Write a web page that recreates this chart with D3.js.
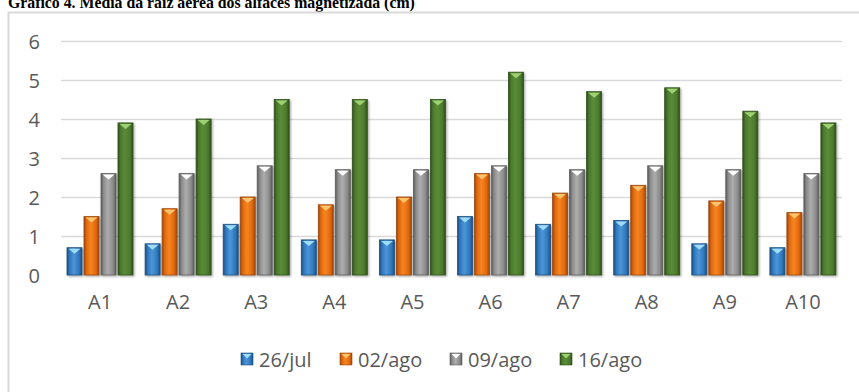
<!DOCTYPE html>
<html>
<head>
<meta charset="utf-8">
<script src="https://cdn.jsdelivr.net/npm/d3@7"></script>
<style>
  html, body { margin: 0; padding: 0; background: #fff; }
  svg { display: block; }
</style>
</head>
<body>
<svg id="chart" width="859" height="392"></svg>
<script>
// Média da raiz aérea (cm) por alface, em quatro datas de medição
const categories = ["A1", "A2", "A3", "A4", "A5", "A6", "A7", "A8", "A9", "A10"];
const seriesNames = ["26/jul", "02/ago", "09/ago", "16/ago"];
const jul26 = [0.7, 0.8, 1.3, 0.9, 0.9, 1.5, 1.3, 1.4, 0.8, 0.7];
const ago02 = [1.5, 1.7, 2.0, 1.8, 2.0, 2.6, 2.1, 2.3, 1.9, 1.6];
const ago09 = [2.6, 2.6, 2.8, 2.7, 2.7, 2.8, 2.7, 2.8, 2.7, 2.6];
const ago16 = [3.9, 4.0, 4.5, 4.5, 4.5, 5.2, 4.7, 4.8, 4.2, 3.9];
const yTicks = [0, 1, 2, 3, 4, 5, 6];
const titleText = "Gráfico 4. Media da raiz aérea dos alfaces magnetizada (cm)";

const seriesValues = [jul26, ago02, ago09, ago16];

// bevelled fill per series: edge, mid, highlight, top facet
const palette = [
  { dark: "#1f4f7d", mid: "#2f78be", light: "#4d95d6", top: "#9fdcf7" },
  { dark: "#9c4710", mid: "#e0690f", light: "#f7851f", top: "#ffc46e" },
  { dark: "#5c5c5c", mid: "#8c8c8c", light: "#adadad", top: "#ffffff" },
  { dark: "#2f4f1c", mid: "#4c7a2e", light: "#5a8c37", top: "#9fd173" }
];

const svg = d3.select("#chart");
const defs = svg.append("defs");

palette.forEach((p, i) => {
  const g = defs.append("linearGradient")
    .attr("id", "grad" + i)
    .attr("x1", "0%").attr("x2", "100%").attr("y1", "0%").attr("y2", "0%");
  g.append("stop").attr("offset", "0%").attr("stop-color", p.dark);
  g.append("stop").attr("offset", "18%").attr("stop-color", p.mid);
  g.append("stop").attr("offset", "45%").attr("stop-color", p.light);
  g.append("stop").attr("offset", "80%").attr("stop-color", p.mid);
  g.append("stop").attr("offset", "100%").attr("stop-color", p.dark);
});

const shadow = defs.append("filter").attr("id", "shadow")
  .attr("x", "-30%").attr("y", "-10%").attr("width", "160%").attr("height", "130%");
shadow.append("feDropShadow")
  .attr("dx", 1.2).attr("dy", 1.2).attr("stdDeviation", 1.2)
  .attr("flood-color", "#000").attr("flood-opacity", 0.35);

// title, running off the top edge of the page
svg.append("text")
  .attr("x", 8).attr("y", 8)
  .attr("font-family", "'Liberation Serif', 'Times New Roman', serif")
  .attr("font-weight", "bold")
  .attr("font-size", 15.8)
  .attr("fill", "#000")
  .text(titleText);

// chart frame
svg.append("rect")
  .attr("x", 8.5).attr("y", 12.5)
  .attr("width", 880).attr("height", 420)
  .attr("fill", "#fff")
  .attr("stroke", "#d9d9d9").attr("stroke-width", 2);

const plot = { left: 61, right: 842, top: 41, bottom: 275 };

const y = d3.scaleLinear().domain([0, 6]).range([plot.bottom, plot.top]);
const x0 = d3.scaleBand().domain(categories).range([plot.left, plot.right]).padding(0);
const x1 = d3.scaleBand().domain(seriesNames).range([6, 72]).paddingInner(2 / 17).paddingOuter(0);

const font = "'Open Sans', 'Noto Sans', sans-serif";
const textColor = "#595959";

// gridlines
svg.append("g")
  .selectAll("line")
  .data(yTicks.filter(t => t > 0))
  .join("line")
  .attr("x1", plot.left).attr("x2", plot.right)
  .attr("y1", d => Math.round(y(d)) + 0.5).attr("y2", d => Math.round(y(d)) + 0.5)
  .attr("stroke", "#d9d9d9").attr("stroke-width", 1.5);

// y axis labels
const yAxis = svg.append("g")
  .attr("transform", `translate(${plot.left - 21},0)`)
  .call(d3.axisLeft(y).tickValues(yTicks).tickSize(0).tickPadding(0).tickFormat(d3.format("d")));
yAxis.select(".domain").remove();
yAxis.selectAll("text")
  .attr("font-family", font).attr("font-size", 20).attr("fill", textColor)
  .attr("dy", "0.36em");

// baseline with soft shadow
svg.append("line")
  .attr("x1", plot.left).attr("x2", plot.right)
  .attr("y1", y(0) + 0.5).attr("y2", y(0) + 0.5)
  .attr("stroke", "#d0d0d0").attr("stroke-width", 2)
  .attr("filter", "url(#shadow)");

// bars
const groups = svg.append("g")
  .selectAll("g")
  .data(categories)
  .join("g")
  .attr("transform", d => `translate(${x0(d)},0)`);

const bars = groups.selectAll("g.bar")
  .data((c, ci) => seriesNames.map((s, si) => ({ s, si, v: seriesValues[si][ci] })))
  .join("g")
  .attr("class", "bar");

bars.append("rect")
  .attr("x", d => x1(d.s))
  .attr("y", d => y(d.v))
  .attr("width", x1.bandwidth())
  .attr("height", d => y(0) - y(d.v))
  .attr("fill", d => `url(#grad${d.si})`)
  .attr("stroke", d => palette[d.si].dark)
  .attr("stroke-width", 0.8)
  .attr("filter", "url(#shadow)");

bars.append("path")
  .attr("d", d => {
    const bx = x1(d.s), bw = x1.bandwidth(), by = y(d.v);
    return `M${bx + 1.5},${by + 1} L${bx + bw - 1.5},${by + 1} L${bx + bw / 2},${by + 6} Z`;
  })
  .attr("fill", d => palette[d.si].top);

// x axis labels
const xAxis = svg.append("g")
  .attr("transform", `translate(0,${plot.bottom + 15})`)
  .call(d3.axisBottom(x0).tickSize(0).tickPadding(0));
xAxis.select(".domain").remove();
xAxis.selectAll("text")
  .attr("font-family", font).attr("font-size", 20).attr("fill", textColor)
  .attr("dy", "0.95em");

// legend
const legendX = [241, 340, 450, 560];
const legend = svg.append("g").selectAll("g")
  .data(seriesNames)
  .join("g")
  .attr("transform", (d, i) => `translate(${legendX[i]},353)`);

legend.append("rect")
  .attr("width", 12).attr("height", 12)
  .attr("fill", (d, i) => `url(#grad${i})`)
  .attr("stroke", (d, i) => palette[i].dark).attr("stroke-width", 0.6);
legend.append("path")
  .attr("d", "M1.5,1 L10.5,1 L6,5.5 Z")
  .attr("fill", (d, i) => palette[i].top);
legend.append("text")
  .attr("x", 18).attr("y", 14)
  .attr("font-family", font).attr("font-size", 20).attr("fill", textColor)
  .text(d => d);
</script>
</body>
</html>
